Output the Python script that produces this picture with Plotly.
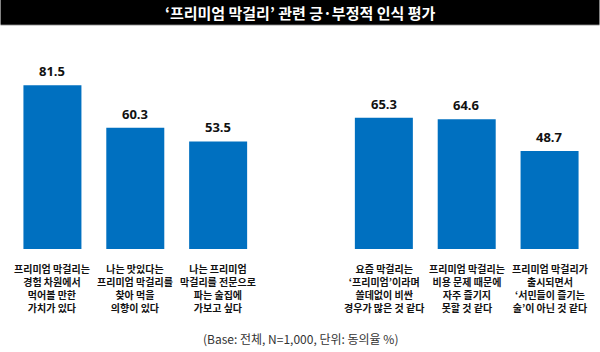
import plotly.graph_objects as go

# ---- data ----
categories = [
    "프리미엄 막걸리는<br>경험 차원에서<br>먹어볼 만한<br>가치가 있다",
    "나는 맛있다는<br>프리미엄 막걸리를<br>찾아 먹을<br>의향이 있다",
    "나는 프리미엄<br>막걸리를 전문으로<br>파는 술집에<br>가보고 싶다",
    "",
    "요즘 막걸리는<br>‘프리미엄’이라며<br>쓸데없이 비싼<br>경우가 많은 것 같다",
    "프리미엄 막걸리는<br>비용 문제 때문에<br>자주 즐기지<br>못할 것 같다",
    "프리미엄 막걸리가<br>출시되면서<br>‘서민들이 즐기는<br>술’이 아닌 것 같다",
]
values = [81.5, 60.3, 53.5, None, 65.3, 64.6, 48.7]
value_labels = ["81.5", "60.3", "53.5", "", "65.3", "64.6", "48.7"]
title_text = "‘프리미엄 막걸리’ 관련 긍·부정적 인식 평가"
footnote = "(Base: 전체, N=1,000, 단위: 동의율 %)"

# ---- layout geometry ----
W, H = 600, 352
ML, MR, MT, MB = 10.5, 8.5, 48, 103
PH = H - MT - MB


def py(p):
    return (H - MB - p) / PH


def px(p):
    return (p - ML) / (W - ML - MR)


KFONT = "Noto Sans CJK KR"
xs = list(range(len(categories)))

fig = go.Figure()
fig.add_trace(go.Bar(
    x=xs, y=values, marker=dict(color="#0070C0", line=dict(width=0)),
    hoverinfo="skip",
))

annotations = []
for i, (v, lab, cat) in enumerate(zip(values, value_labels, categories)):
    if v is None:
        continue
    annotations.append(dict(
        x=i, y=v, xref="x", yref="y", text=f"<b>{lab}</b>", showarrow=False,
        yanchor="bottom", yshift=3,
        font=dict(family="Open Sans", size=13, color="#111111"),
    ))
    annotations.append(dict(
        x=i, y=py(259), xref="x", yref="paper", text=cat, showarrow=False,
        yanchor="top", align="center",
        font=dict(family=KFONT, size=10, color="#111111", weight=700),
    ))

annotations.append(dict(
    x=px(300), y=py(12.5), xref="paper", yref="paper", text=title_text,
    showarrow=False, xanchor="center", yanchor="middle",
    font=dict(family=KFONT, size=15, color="#ffffff", weight=700),
))
annotations.append(dict(
    x=px(300.5), y=py(338.5), xref="paper", yref="paper", text=footnote,
    showarrow=False, xanchor="center", yanchor="middle",
    font=dict(family=KFONT, size=12, color="#333333"),
))

shapes = [
    dict(type="rect", xref="paper", yref="paper", x0=px(0), x1=px(W),
         y0=py(24), y1=py(0), fillcolor="#000000", line=dict(width=0), layer="below"),
    dict(type="rect", xref="paper", yref="paper", x0=px(0), x1=px(W),
         y0=py(25.2), y1=py(24), fillcolor="#3a3a3a", line=dict(width=0), layer="below"),
]

fig.update_layout(
    width=W, height=H,
    margin=dict(l=ML, r=MR, t=MT, b=MB, pad=0),
    paper_bgcolor="#ffffff", plot_bgcolor="#ffffff",
    showlegend=False, bargap=0.30,
    xaxis=dict(range=[-0.5, 6.5], showticklabels=False, showgrid=False,
               zeroline=False, showline=False, ticks="", fixedrange=True),
    yaxis=dict(range=[0, 100], showticklabels=False, showgrid=False,
               zeroline=False, showline=False, ticks="", fixedrange=True),
    annotations=annotations, shapes=shapes,
)

fig.write_html("out.html", config={"displayModeBar": False})
